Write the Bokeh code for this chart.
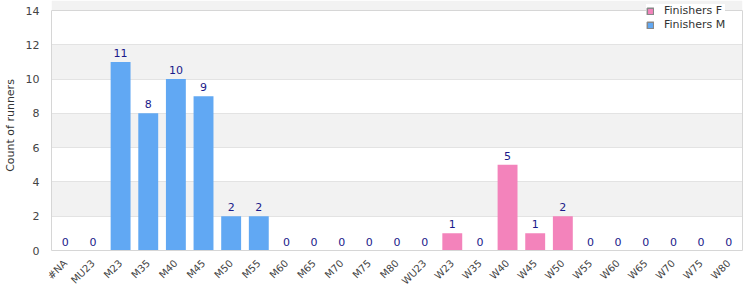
from bokeh.plotting import figure
from bokeh.models import (ColumnDataSource, FactorRange, Range1d, Legend, LegendItem,
                          LinearAxis, FixedTicker, Span)
from bokeh.core.properties import value
from bokeh.embed import file_html
from bokeh.resources import INLINE
import math

categories = ["#NA", "MU23", "M23", "M35", "M40", "M45", "M50", "M55", "M60", "M65",
              "M70", "M75", "M80", "WU23", "W23", "W35", "W40", "W45", "W50", "W55",
              "W60", "W65", "W70", "W75", "W80"]
finishers_m = [0, 0, 11, 8, 10, 9, 2, 2, 0, 0, 0, 0, 0, 0, 0, 0, 0, 0, 0, 0, 0, 0, 0, 0, 0]
finishers_f = [0, 0, 0, 0, 0, 0, 0, 0, 0, 0, 0, 0, 0, 0, 1, 0, 5, 1, 2, 0, 0, 0, 0, 0, 0]
y_ticks = [0, 2, 4, 6, 8, 10, 12, 14]

totals = [m + f for m, f in zip(finishers_m, finishers_f)]
src = ColumnDataSource(dict(cat=categories, m=finishers_m, f=finishers_f,
                            tot=totals, lbl=[str(t) for t in totals]))
# legend-only swatch source: a single row with no height (nothing drawn in the plot)
swatch = ColumnDataSource(dict(cat=categories[:1], top=[float("nan")]))

FONT = "DejaVu Sans"
PINK = "#f383bb"
BLUE = "#61a8f3"
BORDER = "#d6d6d6"
Y_MAX = y_ticks[-1]
# frame spans the whole top of the canvas so the legend can sit above the 14 line
y_end = Y_MAX * 250.0 / 240.0

p = figure(width=750, height=300, x_range=FactorRange(*categories, range_padding=0),
           y_range=Range1d(0, y_end), output_backend="svg", toolbar_location=None,
           min_border_left=50, min_border_right=8, min_border_top=0, min_border_bottom=50)

p.outline_line_color = None
p.background_fill_color = "white"
p.xgrid.grid_line_color = None
p.ygrid.grid_line_color = "#e3e3e3"
p.ygrid.band_fill_color = "#f2f2f2"
p.ygrid.band_fill_alpha = 1.0

p.vbar(x="cat", top="f", width=0.72, source=src, fill_color=PINK, line_color=None)
p.vbar(x="cat", top="m", width=0.72, source=src, fill_color=BLUE, line_color=None)
k_f = p.vbar(x="cat", top="top", width=0.72, source=swatch, fill_color=PINK, line_color="#888888", line_width=1.5)
k_m = p.vbar(x="cat", top="top", width=0.72, source=swatch, fill_color=BLUE, line_color="#888888", line_width=1.5)

p.text(x="cat", y="tot", text="lbl", source=src, text_align="center", text_baseline="bottom",
       y_offset=-5, text_font=value(FONT), text_font_size="11px", text_color="#1a1a8a")

p.yaxis.ticker = y_ticks
p.yaxis.bounds = (0, Y_MAX)
p.yaxis.axis_label = "Count of runners"
p.yaxis.axis_label_text_font = FONT
p.yaxis.axis_label_text_font_style = "normal"
p.yaxis.axis_label_text_font_size = "11px"
p.yaxis.axis_label_text_color = "#333333"
p.yaxis.axis_label_standoff = 6
for ax in (p.xaxis[0], p.yaxis[0]):
    ax.axis_line_color = BORDER
    ax.major_tick_line_color = None
    ax.minor_tick_line_color = None
    ax.major_label_text_font = FONT
    ax.major_label_text_color = "#444444"
p.yaxis.major_label_text_font_size = "11px"
p.yaxis.major_label_standoff = 6
p.xaxis.major_label_text_font_size = "10px"
p.xaxis.major_label_orientation = math.pi / 4
p.xaxis.major_label_standoff = 5

right_axis = LinearAxis(ticker=FixedTicker(ticks=[]), bounds=(0, Y_MAX), axis_line_color=BORDER,
                        major_tick_line_color=None, minor_tick_line_color=None,
                        major_label_text_font_size="0px")
p.add_layout(right_axis, "right")

p.add_layout(Span(location=Y_MAX, dimension="width", line_color=BORDER, line_width=1))

legend = Legend(items=[LegendItem(label="Finishers F", renderers=[k_f]),
                       LegendItem(label="Finishers M", renderers=[k_m])],
                location=(595, 219), background_fill_color="white", background_fill_alpha=1,
                border_line_color=None, label_text_font=FONT, label_text_font_size="11px",
                label_text_color="#333333", glyph_width=8, glyph_height=8, spacing=1,
                padding=6, margin=0, label_standoff=10, label_height=13)
p.add_layout(legend)

open("out.html", "w").write(file_html(p, INLINE))
